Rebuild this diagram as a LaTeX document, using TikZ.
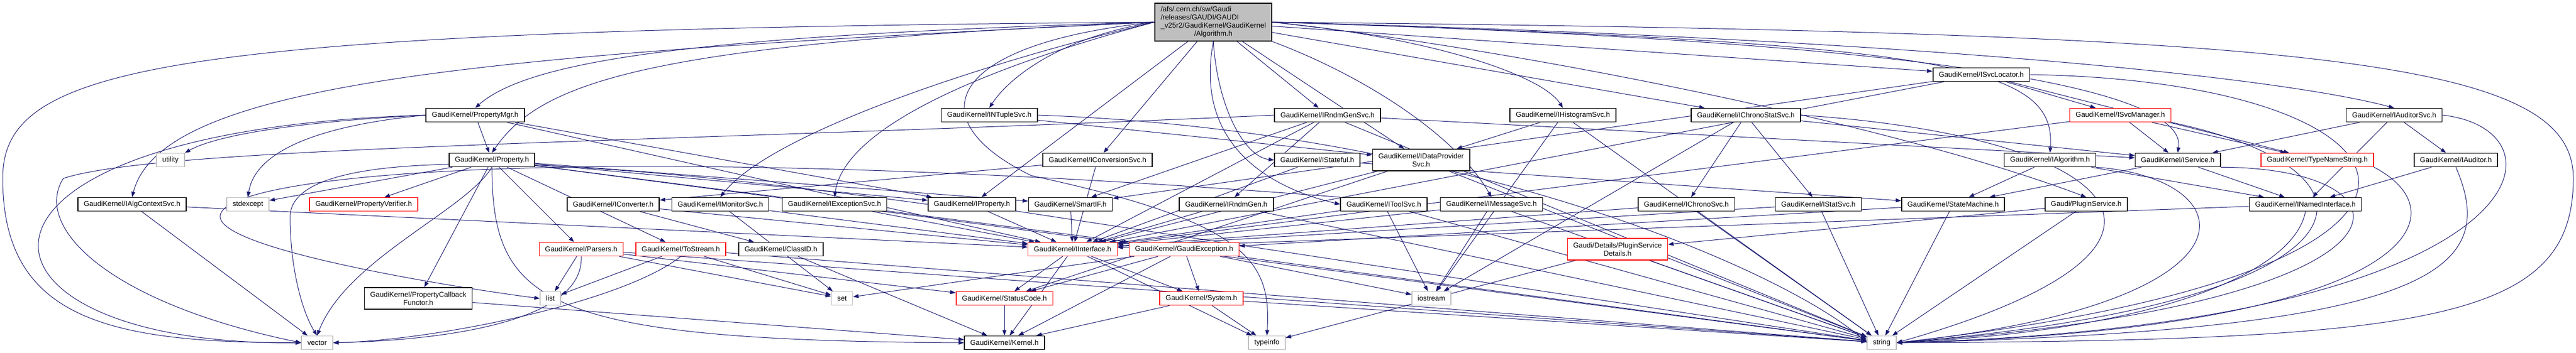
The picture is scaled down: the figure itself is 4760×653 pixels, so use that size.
\documentclass[tikz,border=0pt]{standalone}
\usepackage{fontspec}
\setmainfont{Liberation Sans}
\usetikzlibrary{arrows.meta}
\definecolor{depblue}{RGB}{25,25,112}
\definecolor{boxgray}{RGB}{191,191,191}
\newcommand{\gaudinodes}{%
\node[file,fill=boxgray,minimum height=35pt] (alg) at (2242,41) {\begin{tabular}{@{}l@{}}/afs/.cern.ch/sw/Gaudi\\/releases/GAUDI/GAUDI\\\_v25r2/GaudiKernel/GaudiKernel\\\multicolumn{1}{@{}c@{}}{/Algorithm.h}\end{tabular}};
\node[file] (svcloc) at (3661,138) {GaudiKernel/ISvcLocator.h};
\node[file] (pmgr) at (878,213) {GaudiKernel/PropertyMgr.h};
\node[file] (ntuple) at (1828,213) {GaudiKernel/INTupleSvc.h};
\node[file] (rndmsvc) at (2453,213) {GaudiKernel/IRndmGenSvc.h};
\node[file] (histo) at (2888,213) {GaudiKernel/IHistogramSvc.h};
\node[file] (chronostat) at (3226,213) {GaudiKernel/IChronoStatSvc.h};
\node[trunc] (svcmgr) at (3918,213) {GaudiKernel/ISvcManager.h};
\node[file] (auditsvc) at (4424,213) {GaudiKernel/IAuditorSvc.h};
\node[sysfile] (utility) at (315,296) {utility};
\node[file] (prop) at (909,296) {GaudiKernel/Property.h};
\node[file] (convsvc) at (2028,296) {GaudiKernel/IConversionSvc.h};
\node[file] (stateful) at (2434,296) {GaudiKernel/IStateful.h};
\node[file,align=center,minimum height=20pt] (datasvc) at (2626,296) {GaudiKernel/IDataProvider\\Svc.h};
\node[file] (ialg) at (3788,296) {GaudiKernel/IAlgorithm.h};
\node[file] (service) at (4024,296) {GaudiKernel/IService.h};
\node[trunc] (typename) at (4282,296) {GaudiKernel/TypeNameString.h};
\node[file] (auditor) at (4538,296) {GaudiKernel/IAuditor.h};
\node[file] (algctx) at (244,378) {GaudiKernel/IAlgContextSvc.h};
\node[sysfile] (stdexcept) at (458,378) {stdexcept};
\node[trunc] (verifier) at (672,378) {GaudiKernel/PropertyVerifier.h};
\node[file] (converter) at (1133,378) {GaudiKernel/IConverter.h};
\node[file] (monitor) at (1331,378) {GaudiKernel/IMonitorSvc.h};
\node[file] (exception) at (1542,378) {GaudiKernel/IExceptionSvc.h};
\node[file] (iprop) at (1796,378) {GaudiKernel/IProperty.h};
\node[file] (smartif) at (1978,378) {GaudiKernel/SmartIF.h};
\node[file] (rndmgen) at (2266,378) {GaudiKernel/IRndmGen.h};
\node[file] (toolsvc) at (2557,378) {GaudiKernel/IToolSvc.h};
\node[file] (msgsvc) at (2756,378) {GaudiKernel/IMessageSvc.h};
\node[file] (chrono) at (3116,378) {GaudiKernel/IChronoSvc.h};
\node[file] (statsvc) at (3360,378) {GaudiKernel/IStatSvc.h};
\node[file] (statemach) at (3609,378) {GaudiKernel/StateMachine.h};
\node[file] (plugin) at (3855,378) {Gaudi/PluginService.h};
\node[file] (named) at (4260,378) {GaudiKernel/INamedInterface.h};
\node[trunc] (parsers) at (1074,461) {GaudiKernel/Parsers.h};
\node[trunc] (tostream) at (1258,461) {GaudiKernel/ToStream.h};
\node[file] (classid) at (1443,461) {GaudiKernel/ClassID.h};
\node[trunc] (iface) at (1982,461) {GaudiKernel/IInterface.h};
\node[trunc] (gexc) at (2188,461) {GaudiKernel/GaudiException.h};
\node[trunc,align=center,minimum height=20pt] (details) at (2989,461) {Gaudi/Details/PluginService\\Details.h};
\node[file,align=center,minimum height=20pt] (callback) at (773,552) {GaudiKernel/PropertyCallback\\Functor.h};
\node[sysfile] (list) at (1017,552) {list};
\node[sysfile] (set) at (1556,552) {set};
\node[trunc] (status) at (1856,552) {GaudiKernel/StatusCode.h};
\node[trunc] (system) at (2220,552) {GaudiKernel/System.h};
\node[sysfile] (iostream) at (2645,552) {iostream};
\node[sysfile] (vector) at (586,634) {vector};
\node[file] (kernel) at (1856,634) {GaudiKernel/Kernel.h};
\node[sysfile] (typeinfo) at (2341,634) {typeinfo};
\node[sysfile] (string) at (3477,634) {string};
}

\begin{document}
\begin{tikzpicture}[x=0.5pt,y=-0.5pt,
  file/.style={draw=black,fill=white,line width=0.8pt,minimum height=12.5pt,inner xsep=5.4pt,inner ysep=0pt,font=\fontsize{6.6}{7.5}\selectfont},
  trunc/.style={file,draw=red},
  sysfile/.style={file,draw=boxgray},
  dep/.style={draw=depblue,line width=0.5pt,-{Triangle[length=5pt,width=3.6pt]}}]
\useasboundingbox (0,0) rectangle (4760,653);
\gaudinodes

\foreach \t in {iprop,convsvc,rndmsvc,datasvc,chronostat,svcloc} \draw[dep] (alg) -- (\t);
\draw[dep] (alg.west) .. controls (300,55) and (5,120) .. (5,330) .. controls (5,590) and (200,634) .. (vector.west);
\draw[dep] (alg.west) .. controls (900,100) and (300,150) .. (algctx.north);
\draw[dep] (alg.west) .. controls (1300,65) and (980,110) .. (pmgr.north);
\draw[dep] (alg.west) .. controls (1200,80) and (1000,150) .. (prop.north);
\draw[dep] (alg.west) .. controls (1800,120) and (1420,250) .. (monitor.north);
\draw[dep] (alg.west) .. controls (1800,130) and (1560,240) .. (exception.north);
\draw[dep] (alg.west) .. controls (1950,70) and (1860,150) .. (ntuple.north);
\draw[dep] (alg.west) .. controls (1750,80) and (1690,220) .. (1906,325) .. controls (2300,410) and (2350,480) .. (typeinfo.north);
\draw[dep] (alg.south) .. controls (2250,200) and (2300,290) .. (stateful.west);
\draw[dep] (alg.south) .. controls (2200,300) and (2400,360) .. (toolsvc.west);
\draw[dep] (alg.south east) .. controls (2520,140) and (2690,250) .. (msgsvc.north);
\draw[dep] (alg.east) .. controls (2650,70) and (2850,140) .. (histo.north);
\draw[dep] (alg.east) .. controls (2800,90) and (3500,230) .. (plugin.north);
\draw[dep] (alg.east) .. controls (3600,80) and (3800,120) .. (ialg.north);
\draw[dep] (alg.east) .. controls (3700,80) and (4040,180) .. (service.north);
\draw[dep] (alg.east) .. controls (3500,70) and (4200,140) .. (auditsvc.north);
\draw[dep] (alg.east) .. controls (4300,60) and (4755,110) .. (4755,330) .. controls (4755,590) and (4500,630) .. (string.east);

\foreach \t in {prop,iprop,iface} \draw[dep] (pmgr) -- (\t);
\draw[dep] (pmgr.west) .. controls (-150,240) and (-100,640) .. (vector.west);
\draw[dep] (pmgr.west) .. controls (550,225) and (400,250) .. (utility.north east);
\draw[dep] (pmgr.west) .. controls (560,235) and (470,290) .. (stdexcept.north);

\foreach \t in {stdexcept,verifier,callback,parsers,tostream,iprop,smartif,gexc,string} \draw[dep] (prop) -- (\t);
\draw[dep] (prop.south) .. controls (860,390) and (640,480) .. (vector.north);
\draw[dep] (prop.south) .. controls (910,560) and (1000,630) .. (kernel.west);

\foreach \s/\t in {algctx/vector,algctx/iface,convsvc/converter,convsvc/iface,converter/classid,converter/iface,
  monitor/iface,monitor/set,exception/iface,iprop/iface,iprop/string,smartif/iface,rndmgen/iface,rndmgen/string,
  ntuple/datasvc,histo/datasvc,histo/iostream,histo/string,rndmsvc/rndmgen,rndmsvc/service,rndmsvc/smartif,
  rndmsvc/iface,rndmsvc/string,chronostat/chrono,chronostat/statsvc,chronostat/service,chronostat/iostream,
  svcloc/svcmgr,svcloc/typename,svcloc/smartif,svcloc/iface,svcmgr/service,svcmgr/typename,svcmgr/iface,
  auditsvc/service,auditsvc/named,auditsvc/auditor,auditor/named,stateful/iface,stateful/statemach,
  datasvc/iface,datasvc/status,datasvc/string,ialg/named,ialg/statemach,service/named,service/statemach,
  toolsvc/iface,toolsvc/iostream,toolsvc/string,msgsvc/iface,msgsvc/iostream,msgsvc/string,chrono/iface,
  chrono/string,statsvc/iface,statsvc/string,statemach/gexc,statemach/string,plugin/details,plugin/string,
  named/iface,parsers/list,parsers/set,parsers/status,parsers/string,tostream/list,tostream/set,tostream/string,
  classid/kernel,iface/status,iface/kernel,iface/system,iface/typeinfo,gexc/status,gexc/kernel,gexc/system,
  gexc/string,gexc/iostream,gexc/set,details/string,details/typeinfo,callback/kernel,status/kernel,
  system/kernel,system/typeinfo,system/string}
  \draw[dep] (\s) -- (\t);

\draw[dep] (iprop.west) .. controls (1000,280) and (540,270) .. (536,400) .. controls (536,500) and (560,580) .. (vector.north);
\draw[dep] (ntuple.east) .. controls (2700,240) and (3300,500) .. (string.west);
\draw[dep] (rndmsvc.west) .. controls (1200,265) and (300,270) .. (117,330) .. controls (60,420) and (200,560) .. (vector.west);
\draw[dep] (chronostat.east) .. controls (3900,250) and (4150,450) .. (string.east);
\draw[dep] (svcloc.east) .. controls (4500,150) and (4700,500) .. (string.east);
\draw[dep] (svcmgr.south east) .. controls (4450,320) and (4400,560) .. (string.east);
\draw[dep] (auditsvc.east) .. controls (4760,240) and (4700,600) .. (string.east);
\draw[dep] (auditor.south) .. controls (4620,500) and (4500,610) .. (string.east);
\draw[dep] (typename.south east) .. controls (4560,400) and (4450,610) .. (string.east);
\draw[dep] (ialg.south east) .. controls (4150,330) and (4200,560) .. (string.east);
\draw[dep] (service.south east) .. controls (4480,310) and (4520,560) .. (string.east);
\draw[dep] (toolsvc.north west) .. controls (1000,250) and (300,330) .. (420,420) .. controls (500,480) and (900,540) .. (list.west);
\draw[dep] (named.south) .. controls (4240,500) and (4000,610) .. (string.east);
\draw[dep] (parsers.south) .. controls (1080,600) and (800,630) .. (vector.east);
\draw[dep] (tostream.south) .. controls (1150,560) and (800,630) .. (vector.east);

\gaudinodes
\end{tikzpicture}
\end{document}
